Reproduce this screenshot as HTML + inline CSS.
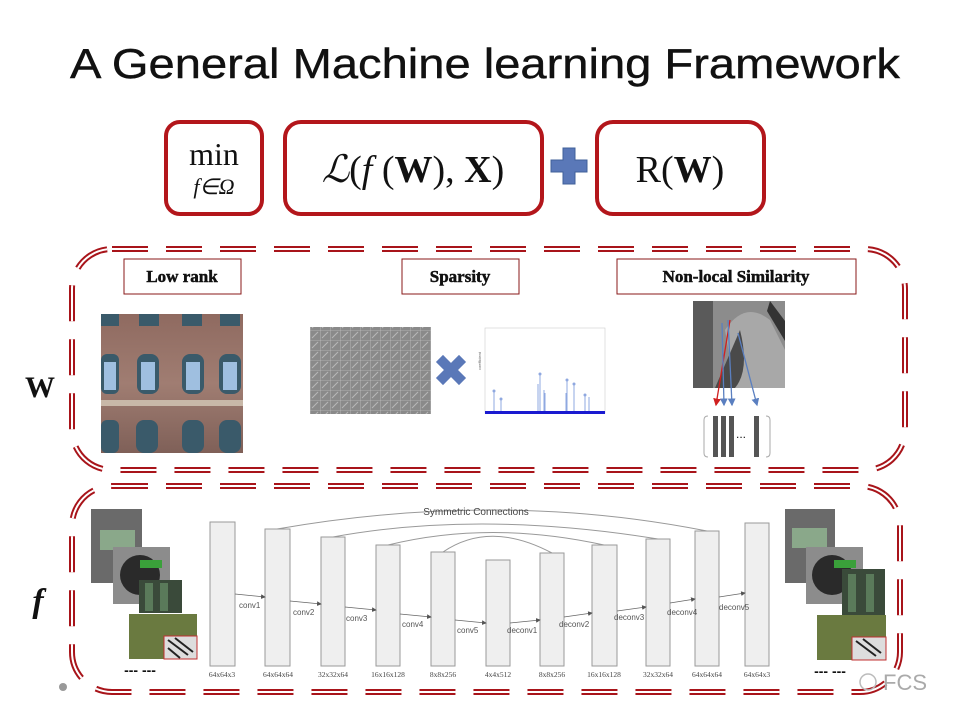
<!DOCTYPE html>
<html><head><meta charset="utf-8"><style>
html,body{margin:0;padding:0;background:#fff;}
svg{display:block;}
</style></head><body>
<svg width="960" height="720" viewBox="0 0 960 720" xmlns="http://www.w3.org/2000/svg" font-family="Liberation Sans, sans-serif">
<defs>
<linearGradient id="brick" x1="0" y1="0" x2="0" y2="1">
<stop offset="0" stop-color="#8f6a60"/><stop offset="0.5" stop-color="#a07d72"/><stop offset="1" stop-color="#7f6058"/>
</linearGradient>
<pattern id="dict" width="10" height="10" patternUnits="userSpaceOnUse">
<rect width="10" height="10" fill="#8a8a8a"/><path d="M2 8 L8 2" stroke="#b8b8b8" stroke-width="1"/><path d="M0 0 H10 M0 0 V10" stroke="#d0d0d0" stroke-width="0.6"/>
</pattern>
<marker id="ah" markerWidth="6" markerHeight="6" refX="5" refY="3" orient="auto"><path d="M0,0 L6,3 L0,6 z" fill="#555"/></marker>
<marker id="ab" markerWidth="6" markerHeight="6" refX="5" refY="3" orient="auto"><path d="M0,0 L6,3 L0,6 z" fill="#5a7fc0"/></marker>
<marker id="ar" markerWidth="6" markerHeight="6" refX="5" refY="3" orient="auto"><path d="M0,0 L6,3 L0,6 z" fill="#d02020"/></marker>
</defs>

<!-- Title -->
<text x="485" y="78" font-size="42" text-anchor="middle" textLength="830" lengthAdjust="spacingAndGlyphs" fill="#111" stroke="#111" stroke-width="0.4">A General Machine learning Framework</text>

<!-- Formula boxes -->
<g fill="none" stroke="#b3161b" stroke-width="4">
<rect x="166" y="122" width="96" height="92" rx="14"/>
<rect x="285" y="122" width="257" height="92" rx="16"/>
<rect x="597" y="122" width="167" height="92" rx="16"/>
</g>
<g font-family="Liberation Serif, serif" fill="#111">
<text x="214" y="165" font-size="32" text-anchor="middle">min</text>
<text x="214" y="194" font-size="22" text-anchor="middle" font-style="italic">f∈Ω</text>
<text x="413" y="182" font-size="38" text-anchor="middle"><tspan font-style="italic">ℒ</tspan>(<tspan font-style="italic">f</tspan> (<tspan font-weight="bold">W</tspan>), <tspan font-weight="bold">X</tspan>)</text>
<text x="680" y="182" font-size="38" text-anchor="middle">R(<tspan font-weight="bold">W</tspan>)</text>
</g>
<path d="M563 148 h12 v12 h12 v12 h-12 v12 h-12 v-12 h-12 v-12 h12 z" fill="#5a78b8" stroke="#40609a" stroke-width="1"/>

<!-- Dashed double boxes -->
<g fill="none" stroke-dasharray="36 18">
<rect x="72" y="249" width="833" height="221" rx="40" stroke="#a8141a" stroke-width="6"/>
<rect x="72" y="249" width="833" height="221" rx="40" stroke="#fff" stroke-width="2"/>
<rect x="72" y="486" width="828" height="206" rx="40" stroke="#a8141a" stroke-width="6"/>
<rect x="72" y="486" width="828" height="206" rx="40" stroke="#fff" stroke-width="2"/>
</g>

<!-- W / f labels -->
<text x="40" y="397" font-family="Liberation Serif, serif" font-size="30" font-weight="bold" text-anchor="middle" fill="#111">W</text>
<text x="38" y="612" font-family="Liberation Serif, serif" font-size="34" font-weight="bold" font-style="italic" text-anchor="middle" fill="#111">f</text>

<!-- Labels -->
<g font-family="Liberation Serif, serif" font-weight="bold" font-size="17" fill="#111" text-anchor="middle" stroke="#111" stroke-width="0.5">
<rect x="124" y="259" width="117" height="35" fill="#fff" stroke="#8a1a1a" stroke-width="1"/>
<text x="182" y="282">Low rank</text>
<rect x="402" y="259" width="117" height="35" fill="#fff" stroke="#8a1a1a" stroke-width="1"/>
<text x="460" y="282">Sparsity</text>
<rect x="617" y="259" width="239" height="35" fill="#fff" stroke="#8a1a1a" stroke-width="1"/>
<text x="736" y="282">Non-local Similarity</text>
</g>

<!-- Low rank building -->
<rect x="101" y="314" width="142" height="139" fill="url(#brick)"/>
<g fill="#3a5a6a">
<rect x="101" y="314" width="18" height="12"/><rect x="139" y="314" width="20" height="12"/><rect x="182" y="314" width="20" height="12"/><rect x="220" y="314" width="20" height="12"/>
<rect x="101" y="354" width="18" height="40" rx="6"/><rect x="137" y="354" width="22" height="40" rx="8"/><rect x="182" y="354" width="22" height="40" rx="8"/><rect x="219" y="354" width="22" height="40" rx="8"/>
<rect x="101" y="420" width="18" height="33" rx="6"/><rect x="136" y="420" width="22" height="33" rx="8"/><rect x="182" y="420" width="22" height="33" rx="8"/><rect x="219" y="420" width="22" height="33" rx="8"/>
</g>
<g fill="#9fbfe0">
<rect x="104" y="362" width="12" height="28"/><rect x="141" y="362" width="14" height="28"/><rect x="186" y="362" width="14" height="28"/><rect x="223" y="362" width="14" height="28"/>
</g>
<rect x="101" y="400" width="142" height="6" fill="#c8b8a8"/>

<!-- Dictionary -->
<rect x="310" y="327" width="121" height="87" fill="url(#dict)"/>
<path d="M443 362 L459 378 M459 362 L443 378" stroke="#5a78b8" stroke-width="10" stroke-linecap="square"/>

<!-- Sparse chart -->
<rect x="485" y="328" width="120" height="85" fill="#fff" stroke="#ccc" stroke-width="0.6"/>
<g stroke="#8fa8e0" stroke-width="1" fill="none">
<path d="M494 413 V391 M501 413 V399 M538 413 V384 M540 413 V374 M544 413 V390 M545 413 V393 M566 413 V393 M567 413 V380 M574 413 V384 M585 413 V395 M589 413 V397"/>
</g>
<g fill="#8fa8e0"><circle cx="494" cy="391" r="1.5"/><circle cx="501" cy="399" r="1.5"/><circle cx="540" cy="374" r="1.5"/><circle cx="567" cy="380" r="1.5"/><circle cx="574" cy="384" r="1.5"/><circle cx="585" cy="395" r="1.5"/></g>
<rect x="485" y="411" width="120" height="3" fill="#1a1ad0"/>
<text x="481" y="370" font-size="4" fill="#666" transform="rotate(-90 481 370)">coefficient</text>

<!-- Lena -->
<rect x="693" y="301" width="92" height="87" fill="#8c8c8c"/>
<path d="M693 301 h20 v87 h-20z" fill="#5a5a5a"/>
<path d="M725 330 q20 -30 45 -10 l15 30 v38 h-50 z" fill="#a8a8a8"/>
<path d="M740 330 q10 40 -5 58 h-20 z" fill="#4a4a4a"/>
<path d="M770 301 l15 20 v20 l-18 -30 z" fill="#333"/>
<g stroke-width="1.3" fill="none">
<path d="M730 320 L716 405" stroke="#d02020" marker-end="url(#ar)"/>
<path d="M722 323 L724 405" stroke="#5a7fc0" marker-end="url(#ab)"/>
<path d="M728 320 L732 405" stroke="#5a7fc0" marker-end="url(#ab)"/>
<path d="M738 333 L757 405" stroke="#5a7fc0" marker-end="url(#ab)"/>
</g>
<g>
<path d="M708 416 q-4 0 -4 4 v33 q0 4 4 4" fill="none" stroke="#aaa"/>
<path d="M766 416 q4 0 4 4 v33 q0 4 -4 4" fill="none" stroke="#aaa"/>
<rect x="713" y="416" width="5" height="41" fill="#555"/><rect x="721" y="416" width="5" height="41" fill="#555"/><rect x="729" y="416" width="5" height="41" fill="#555"/><rect x="754" y="416" width="5" height="41" fill="#555"/>
<text x="741" y="438" font-size="12" fill="#111" text-anchor="middle">...</text>
</g>

<!-- Network -->
<g fill="#efefef" stroke="#9a9a9a" stroke-width="1">
<rect x="210" y="522" width="25" height="144"/>
<rect x="265" y="529" width="25" height="137"/>
<rect x="321" y="537" width="24" height="129"/>
<rect x="376" y="545" width="24" height="121"/>
<rect x="431" y="552" width="24" height="114"/>
<rect x="486" y="560" width="24" height="106"/>
<rect x="540" y="553" width="24" height="113"/>
<rect x="592" y="545" width="25" height="121"/>
<rect x="646" y="539" width="24" height="127"/>
<rect x="695" y="531" width="24" height="135"/>
<rect x="745" y="523" width="24" height="143"/>
</g>
<g fill="none" stroke="#999" stroke-width="1">
<path d="M277 529 Q500 490 707 531"/>
<path d="M333 537 Q480 510 658 539"/>
<path d="M388 545 Q490 520 604 545"/>
<path d="M443 552 Q490 520 552 553"/>
</g>
<text x="476" y="515" font-size="10" fill="#444" text-anchor="middle">Symmetric Connections</text>
<g stroke="#666" stroke-width="0.8" marker-end="url(#ah)">
<line x1="235" y1="594" x2="265" y2="597"/>
<line x1="290" y1="601" x2="321" y2="604"/>
<line x1="345" y1="607" x2="376" y2="610"/>
<line x1="400" y1="614" x2="431" y2="617"/>
<line x1="455" y1="620" x2="486" y2="623"/>
<line x1="510" y1="623" x2="540" y2="620"/>
<line x1="564" y1="617" x2="592" y2="613"/>
<line x1="617" y1="611" x2="646" y2="607"/>
<line x1="670" y1="603" x2="695" y2="599"/>
<line x1="719" y1="597" x2="745" y2="593"/>
</g>
<g font-size="8" fill="#555">
<text x="239" y="608">conv1</text><text x="293" y="615">conv2</text><text x="346" y="621">conv3</text><text x="402" y="627">conv4</text><text x="457" y="633">conv5</text>
<text x="507" y="633">deconv1</text><text x="559" y="627">deconv2</text><text x="614" y="620">deconv3</text><text x="667" y="615">deconv4</text><text x="719" y="610">deconv5</text>
</g>
<g font-family="Liberation Serif, serif" font-size="7.5" fill="#444" text-anchor="middle">
<text x="222" y="677">64x64x3</text><text x="278" y="677">64x64x64</text><text x="333" y="677">32x32x64</text><text x="388" y="677">16x16x128</text><text x="443" y="677">8x8x256</text><text x="498" y="677">4x4x512</text><text x="552" y="677">8x8x256</text><text x="604" y="677">16x16x128</text><text x="658" y="677">32x32x64</text><text x="707" y="677">64x64x64</text><text x="757" y="677">64x64x3</text>
</g>

<!-- Left image stack -->
<g>
<rect x="91" y="509" width="51" height="74" fill="#6a6a6a"/><rect x="100" y="530" width="35" height="20" fill="#8aa88a"/>
<rect x="113" y="547" width="57" height="57" fill="#8c8c8c"/><circle cx="140" cy="575" r="20" fill="#2a2a2a"/><rect x="140" y="560" width="22" height="8" fill="#3aa03a"/>
<rect x="139" y="580" width="43" height="33" fill="#3a4a3a"/><rect x="145" y="583" width="8" height="28" fill="#5a7a5a"/><rect x="160" y="583" width="8" height="28" fill="#5a7a5a"/>
<rect x="129" y="614" width="68" height="45" fill="#6a7a40"/><rect x="164" y="636" width="33" height="23" fill="#ddd" stroke="#c03030"/><path d="M168 640 l20 15 M175 638 l18 14 M168 648 l12 10" stroke="#222" stroke-width="2"/>
</g>
<text x="140" y="675" font-size="14" font-weight="bold" fill="#111" text-anchor="middle">--- ---</text>

<!-- Right image stack -->
<g>
<rect x="785" y="509" width="50" height="74" fill="#6a6a6a"/><rect x="792" y="528" width="35" height="20" fill="#8aa88a"/>
<rect x="806" y="547" width="57" height="57" fill="#8c8c8c"/><circle cx="832" cy="575" r="20" fill="#2a2a2a"/><rect x="834" y="560" width="22" height="8" fill="#3aa03a"/>
<rect x="842" y="569" width="43" height="46" fill="#3a4a3a"/><rect x="848" y="574" width="8" height="38" fill="#5a7a5a"/><rect x="866" y="574" width="8" height="38" fill="#5a7a5a"/>
<rect x="817" y="615" width="69" height="45" fill="#6a7a40"/><rect x="852" y="637" width="34" height="23" fill="#ddd" stroke="#c03030"/><path d="M856 641 l20 15 M863 639 l18 14" stroke="#222" stroke-width="2"/>
</g>
<text x="830" y="676" font-size="14" font-weight="bold" fill="#111" text-anchor="middle">--- ---</text>
<text x="905" y="690" font-size="22" fill="#aaa" text-anchor="middle">FCS</text>
<circle cx="868" cy="682" r="8" fill="none" stroke="#bbb" stroke-width="1.5"/>
<circle cx="63" cy="687" r="4" fill="#999"/>
</svg>
</body></html>
